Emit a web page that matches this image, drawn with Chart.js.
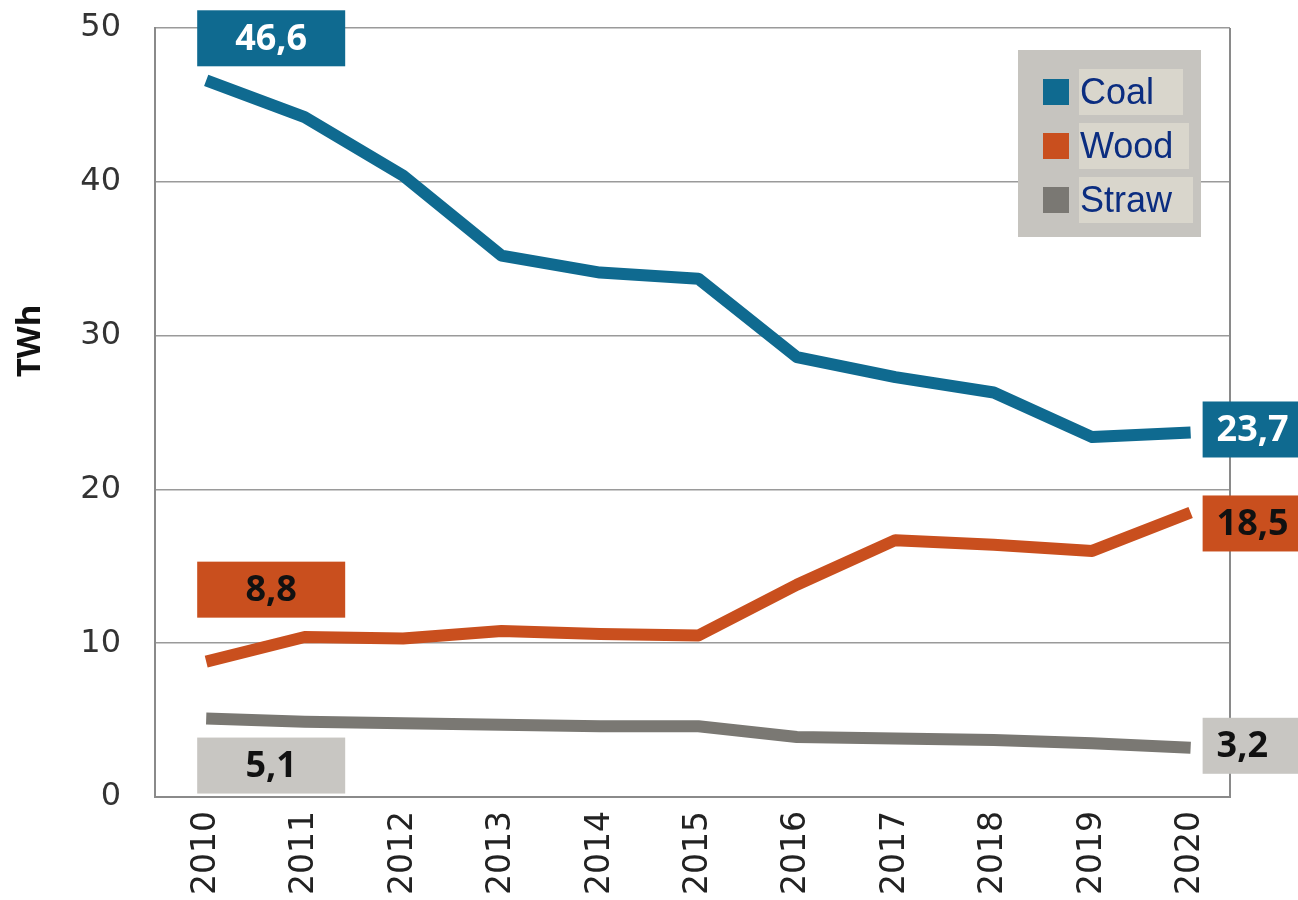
<!DOCTYPE html>
<html>
<head>
<meta charset="utf-8">
<script src="https://cdn.jsdelivr.net/npm/chart.js@4.4.1/dist/chart.umd.min.js"></script>
<style>
  html, body { margin: 0; padding: 0; background: #fff; }
  #wrap { width: 1298px; height: 900px; position: relative; }
</style>
</head>
<body>
<div id="wrap"><canvas id="chart" width="1298" height="900"></canvas></div>
<script>
// Data
const years = [2010, 2011, 2012, 2013, 2014, 2015, 2016, 2017, 2018, 2019, 2020];
const coal  = [46.6, 44.2, 40.4, 35.2, 34.1, 33.7, 28.6, 27.3, 26.3, 23.4, 23.7];
const wood  = [8.8, 10.4, 10.3, 10.8, 10.6, 10.5, 13.8, 16.7, 16.4, 16.0, 18.5];
const straw = [5.1, 4.9, 4.8, 4.7, 4.6, 4.6, 3.9, 3.8, 3.7, 3.5, 3.2];
const seriesNames = ['Coal', 'Wood', 'Straw'];
const yTicks = [0, 10, 20, 30, 40, 50];
const yTitle = 'TWh';

const COLORS = {
    coal: '#0f6a90',
    wood: '#c94f1e',
    straw: '#7a7873',
    strawBox: '#c8c6c2',
    grid: '#9a9a9a',
    axis: '#8a8a8a',
    legendBg: '#c6c4bf',
    legendTextBg: '#d9d6cc',
    legendText: '#0b2d80'
};

function toPoints(values) {
    return values.map((v, i) => ({ x: years[i], y: v }));
}

// value boxes at the start and end of each line
// startTop: box top relative to the first point; endShift: box centre relative to the last point
const labelStyle = [
    { bg: COLORS.coal,     text: '#ffffff', startTop: -70, endShift: -3 },
    { bg: COLORS.wood,     text: '#111111', startTop: -100, endShift: 11 },
    { bg: COLORS.strawBox, text: '#111111', startTop: 19, endShift: -2 }
];
const legendTextBgWidth = [104, 110, 114];

const frameLine = {
    id: 'frameLine',
    beforeDatasetsDraw(chart) {
        const { ctx, chartArea } = chart;
        ctx.save();
        ctx.strokeStyle = COLORS.axis;
        ctx.lineWidth = 2;
        ctx.beginPath();
        ctx.moveTo(chartArea.right, chartArea.top);
        ctx.lineTo(chartArea.right, chartArea.bottom);
        ctx.stroke();

        // y axis title, sits a little above the middle in the original
        ctx.translate(31, 341);
        ctx.rotate(-Math.PI / 2);
        ctx.font = 'bold 33px "Open Sans", sans-serif';
        ctx.fillStyle = '#111';
        ctx.textAlign = 'center';
        ctx.textBaseline = 'middle';
        ctx.fillText(yTitle, 0, 0);
        ctx.restore();
    }
};

const valueBoxes = {
    id: 'valueBoxes',
    afterDatasetsDraw(chart) {
        const ctx = chart.ctx;
        ctx.save();
        ctx.font = 'bold 36px "Open Sans", sans-serif';
        ctx.textBaseline = 'middle';
        chart.data.datasets.forEach((ds, i) => {
            const meta = chart.getDatasetMeta(i);
            const st = labelStyle[i];
            const first = meta.data[0];
            const last = meta.data[meta.data.length - 1];
            const fmt = v => v.toFixed(1).replace('.', ',');

            // start box
            const bx = first.x - 9, by = first.y + st.startTop;
            ctx.fillStyle = st.bg;
            ctx.fillRect(bx, by, 148, 56);
            ctx.fillStyle = st.text;
            ctx.textAlign = 'center';
            ctx.fillText(fmt(ds.data[0].y), bx + 74, by + 29);

            // end box
            const ex = last.x + 12, ey = last.y + st.endShift;
            ctx.fillStyle = st.bg;
            ctx.fillRect(ex, ey - 28, 110, 56);
            ctx.fillStyle = st.text;
            ctx.textAlign = 'left';
            ctx.fillText(fmt(ds.data[ds.data.length - 1].y), ex + 14, ey + 1);
        });
        ctx.restore();
    }
};

const boxLegend = {
    id: 'boxLegend',
    afterDraw(chart) {
        const ctx = chart.ctx;
        const x0 = 1018, y0 = 50;
        ctx.save();
        ctx.fillStyle = COLORS.legendBg;
        ctx.fillRect(x0, y0, 183, 187);
        ctx.font = '36px "Liberation Sans", Arial, sans-serif';
        ctx.textBaseline = 'middle';
        ctx.textAlign = 'left';
        chart.data.datasets.forEach((ds, i) => {
            const cy = 92 + i * 54;
            ctx.fillStyle = ds.borderColor;
            ctx.fillRect(1043, cy - 13, 26, 26);
            ctx.fillStyle = COLORS.legendTextBg;
            ctx.fillRect(1079, cy - 23, legendTextBgWidth[i], 46);
            ctx.fillStyle = COLORS.legendText;
            ctx.fillText(ds.label, 1080, cy + 2);
        });
        ctx.restore();
    }
};

const lineDefaults = {
    borderWidth: 12,
    pointRadius: 0,
    tension: 0,
    borderCapStyle: 'butt',
    borderJoinStyle: 'round',
    fill: false
};

new Chart(document.getElementById('chart').getContext('2d'), {
    type: 'line',
    data: {
        datasets: [
            { ...lineDefaults, label: seriesNames[0], data: toPoints(coal), borderColor: COLORS.coal },
            { ...lineDefaults, label: seriesNames[1], data: toPoints(wood), borderColor: COLORS.wood },
            { ...lineDefaults, label: seriesNames[2], data: toPoints(straw), borderColor: COLORS.straw }
        ]
    },
    options: {
        responsive: false,
        animation: false,
        layout: { padding: { top: 28, right: 68, left: 0, bottom: 0 } },
        plugins: {
            legend: { display: false },
            tooltip: { enabled: false }
        },
        scales: {
            x: {
                type: 'linear',
                min: 2009.48,
                max: 2020.4,
                afterBuildTicks: scale => { scale.ticks = years.map(v => ({ value: v })); },
                afterFit: scale => {
                    scale.height = 103;
                    scale.paddingLeft = 0;
                    scale.paddingRight = 0;
                },
                grid: { display: false },
                border: { color: COLORS.axis, width: 2 },
                ticks: {
                    minRotation: 90,
                    maxRotation: 90,
                    padding: 6,
                    color: '#222',
                    font: { family: '"DejaVu Sans", sans-serif', size: 33 },
                    callback: v => String(v)
                }
            },
            y: {
                min: 0,
                max: 50,
                afterBuildTicks: scale => { scale.ticks = yTicks.map(v => ({ value: v })); },
                afterFit: scale => {
                    scale.width = 155;
                    scale.paddingTop = 0;
                    scale.paddingBottom = 0;
                },
                grid: { color: COLORS.grid, lineWidth: 1.5, drawTicks: false },
                border: { color: COLORS.axis, width: 2 },
                ticks: {
                    padding: 34,
                    color: '#333',
                    font: { family: '"DejaVu Sans", sans-serif', size: 32 }
                }
            }
        }
    },
    plugins: [frameLine, valueBoxes, boxLegend]
});
</script>
</body>
</html>
